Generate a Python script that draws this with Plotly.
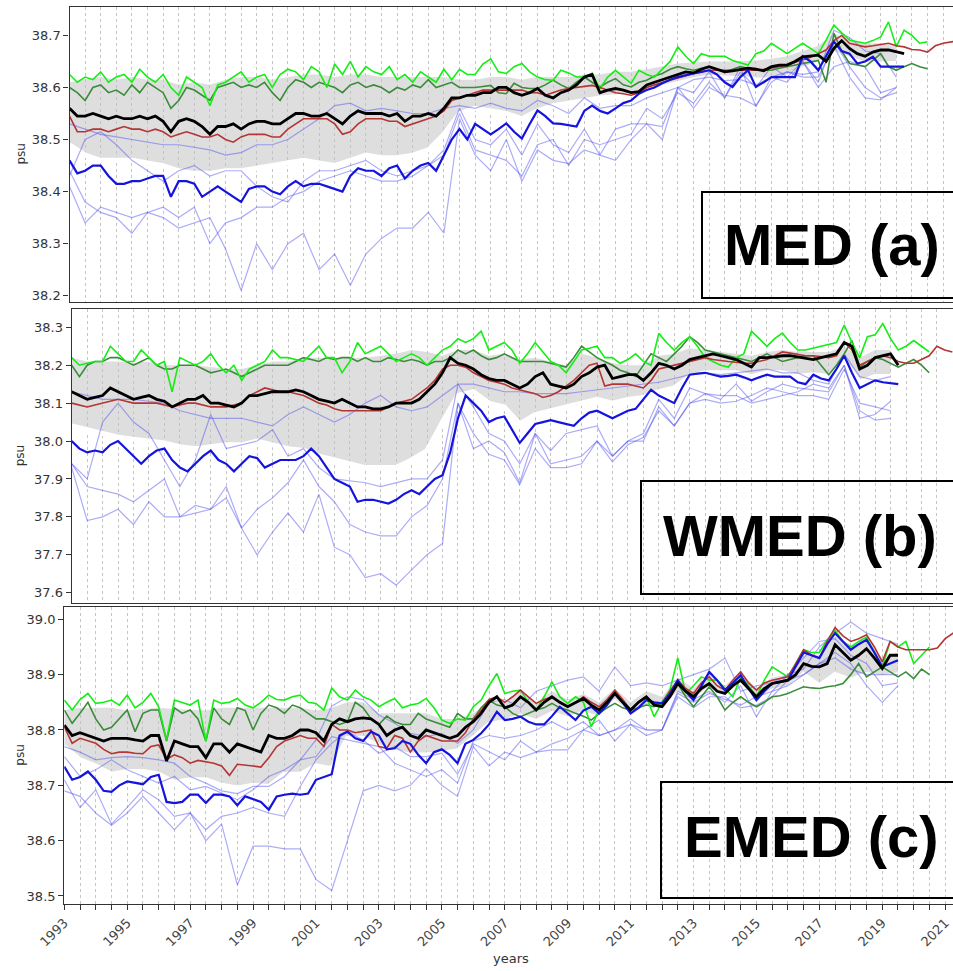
import plotly.graph_objects as go

# ---------------- time axis settings ----------------
START = 1993.0
Q = 0.25   # quarterly series
H = 0.5    # semi-annual series

year_ticks = list(range(1993, 2022, 2))
year_labels = [str(y) for y in year_ticks]

# ---------------- MED (a) ----------------
med_black = [38.56, 38.545, 38.545, 38.55, 38.545, 38.54, 38.545, 38.54, 38.54, 38.545, 38.54, 38.545,
             38.535, 38.515, 38.535, 38.54, 38.535, 38.525, 38.51, 38.525, 38.525, 38.53, 38.52, 38.53,
             38.535, 38.535, 38.53, 38.53, 38.54, 38.55, 38.55, 38.545, 38.545, 38.55, 38.54, 38.53,
             38.545, 38.555, 38.55, 38.55, 38.55, 38.545, 38.55, 38.535, 38.545, 38.545, 38.55, 38.545,
             38.56, 38.58, 38.58, 38.585, 38.585, 38.59, 38.59, 38.60, 38.60, 38.59, 38.585, 38.59,
             38.598, 38.585, 38.58, 38.59, 38.595, 38.605, 38.62, 38.625, 38.59, 38.595, 38.598, 38.595,
             38.59, 38.592, 38.605, 38.61, 38.615, 38.62, 38.625, 38.63, 38.628, 38.635, 38.64, 38.635,
             38.63, 38.632, 38.635, 38.637, 38.635, 38.632, 38.64, 38.643, 38.643, 38.65, 38.659, 38.66,
             38.662, 38.65, 38.675, 38.69, 38.675, 38.665, 38.66, 38.668, 38.672, 38.672, 38.668, 38.665]
med_red = [38.545, 38.515, 38.515, 38.52, 38.52, 38.515, 38.52, 38.525, 38.52, 38.52, 38.515, 38.52,
           38.515, 38.505, 38.51, 38.515, 38.51, 38.505, 38.505, 38.51, 38.50, 38.495, 38.505, 38.51,
           38.51, 38.51, 38.505, 38.505, 38.52, 38.53, 38.54, 38.54, 38.54, 38.54, 38.53, 38.51,
           38.515, 38.53, 38.54, 38.54, 38.54, 38.535, 38.535, 38.525, 38.53, 38.535, 38.54, 38.545,
           38.555, 38.575, 38.58, 38.585, 38.59, 38.595, 38.595, 38.595, 38.595, 38.595, 38.595, 38.59,
           38.59, 38.585, 38.59, 38.595, 38.598, 38.60, 38.602, 38.604, 38.60, 38.595, 38.59, 38.588,
           38.585, 38.59, 38.60, 38.605, 38.61, 38.614, 38.618, 38.623, 38.627, 38.63, 38.633, 38.633,
           38.633, 38.633, 38.633, 38.633, 38.633, 38.635, 38.637, 38.64, 38.643, 38.648, 38.652, 38.658,
           38.665, 38.672, 38.69, 38.70, 38.685, 38.682, 38.678, 38.68, 38.683, 38.685, 38.68, 38.678,
           38.673, 38.672, 38.668, 38.68, 38.685, 38.688, 38.69]
med_lime = [38.625, 38.61, 38.62, 38.615, 38.63, 38.61, 38.62, 38.625, 38.61, 38.635, 38.62, 38.61,
            38.625, 38.60, 38.585, 38.62, 38.61, 38.60, 38.565, 38.605, 38.61, 38.62, 38.63, 38.61,
            38.62, 38.625, 38.60, 38.625, 38.635, 38.63, 38.615, 38.64, 38.63, 38.60, 38.645, 38.625,
            38.65, 38.62, 38.64, 38.63, 38.625, 38.64, 38.615, 38.625, 38.61, 38.63, 38.62, 38.61,
            38.635, 38.615, 38.635, 38.625, 38.625, 38.645, 38.655, 38.63, 38.627, 38.64, 38.646, 38.63,
            38.62, 38.615, 38.614, 38.633, 38.628, 38.62, 38.62, 38.627, 38.598, 38.62, 38.633, 38.62,
            38.608, 38.633, 38.625, 38.62, 38.635, 38.65, 38.678, 38.66, 38.646, 38.665, 38.66, 38.66,
            38.66, 38.652, 38.648, 38.643, 38.665, 38.67, 38.685, 38.675, 38.665, 38.675, 38.685, 38.675,
            38.665, 38.691, 38.72, 38.705, 38.691, 38.688, 38.685, 38.69, 38.697, 38.726, 38.678, 38.71,
            38.70, 38.685, 38.688]
med_dkgreen = [38.60, 38.59, 38.575, 38.60, 38.605, 38.59, 38.595, 38.585, 38.605, 38.59, 38.61, 38.60,
               38.59, 38.56, 38.575, 38.60, 38.595, 38.585, 38.575, 38.60, 38.605, 38.61, 38.60, 38.605,
               38.60, 38.61, 38.59, 38.575, 38.60, 38.615, 38.61, 38.60, 38.61, 38.605, 38.60, 38.59,
               38.605, 38.61, 38.60, 38.605, 38.60, 38.59, 38.60, 38.595, 38.605, 38.60, 38.615, 38.60,
               38.605, 38.61, 38.60, 38.60, 38.60, 38.602, 38.604, 38.59, 38.588, 38.608, 38.60, 38.598,
               38.598, 38.605, 38.614, 38.605, 38.598, 38.61, 38.62, 38.61, 38.601, 38.61, 38.617, 38.605,
               38.601, 38.61, 38.614, 38.622, 38.627, 38.635, 38.64, 38.636, 38.633, 38.637, 38.64, 38.635,
               38.63, 38.635, 38.64, 38.637, 38.633, 38.633, 38.633, 38.637, 38.64, 38.643, 38.646, 38.65,
               38.652, 38.61, 38.704, 38.67, 38.646, 38.643, 38.64, 38.652, 38.665, 38.64, 38.633, 38.64,
               38.646, 38.64, 38.636]
med_blue = [38.46, 38.435, 38.44, 38.45, 38.45, 38.43, 38.415, 38.415, 38.42, 38.42, 38.425, 38.43,
            38.43, 38.39, 38.42, 38.42, 38.415, 38.39, 38.40, 38.41, 38.40, 38.39, 38.38, 38.405,
            38.41, 38.41, 38.40, 38.395, 38.41, 38.42, 38.41, 38.415, 38.415, 38.41, 38.405, 38.40,
            38.43, 38.445, 38.44, 38.44, 38.43, 38.445, 38.45, 38.425, 38.44, 38.45, 38.455, 38.44,
            38.47, 38.50, 38.52, 38.50, 38.53, 38.52, 38.51, 38.52, 38.531, 38.515, 38.502, 38.53,
            38.556, 38.545, 38.531, 38.53, 38.528, 38.525, 38.555, 38.565, 38.555, 38.55, 38.56, 38.57,
            38.575, 38.588, 38.595, 38.60, 38.608, 38.615, 38.62, 38.624, 38.627, 38.63, 38.633, 38.625,
            38.61, 38.601, 38.62, 38.633, 38.601, 38.61, 38.62, 38.62, 38.62, 38.62, 38.66, 38.65,
            38.633, 38.66, 38.688, 38.67, 38.665, 38.646, 38.65, 38.659, 38.64, 38.64, 38.64, 38.64]
med_band_hi = [38.61, 38.615, 38.62, 38.615, 38.62, 38.615, 38.615, 38.605, 38.61, 38.605, 38.615, 38.62,
               38.62, 38.615, 38.62, 38.625, 38.625, 38.62, 38.625, 38.625, 38.62, 38.62, 38.62, 38.62,
               38.62, 38.615, 38.615, 38.62, 38.62, 38.615, 38.62, 38.62, 38.62, 38.625, 38.625, 38.63,
               38.63, 38.635, 38.64, 38.646, 38.648, 38.65, 38.65, 38.65, 38.652, 38.655, 38.66, 38.67,
               38.68, 38.704, 38.69, 38.685, 38.685, 38.678]
med_band_lo = [38.49, 38.47, 38.46, 38.46, 38.46, 38.455, 38.45, 38.44, 38.435, 38.435, 38.44, 38.44,
               38.445, 38.45, 38.455, 38.46, 38.455, 38.45, 38.46, 38.47, 38.465, 38.465, 38.47, 38.48,
               38.51, 38.55, 38.56, 38.555, 38.55, 38.54, 38.555, 38.565, 38.57, 38.575, 38.58, 38.582,
               38.585, 38.59, 38.60, 38.608, 38.615, 38.62, 38.618, 38.615, 38.615, 38.614, 38.62, 38.635,
               38.645, 38.665, 38.655, 38.645, 38.645, 38.646]
med_light = [
    [38.53, 38.52, 38.51, 38.505, 38.50, 38.495, 38.49, 38.49, 38.485, 38.48, 38.47, 38.475,
     38.49, 38.49, 38.50, 38.52, 38.54, 38.565, 38.57, 38.555, 38.56, 38.555, 38.55, 38.55,
     38.56, 38.565, 38.56, 38.57, 38.56, 38.555, 38.575, 38.565, 38.55, 38.58, 38.56, 38.565,
     38.565, 38.58, 38.59, 38.60, 38.615, 38.62, 38.613, 38.615, 38.605, 38.62, 38.63, 38.625,
     38.63, 38.71, 38.696, 38.67, 38.665, 38.62],
    [38.43, 38.50, 38.515, 38.49, 38.46, 38.44, 38.42, 38.44, 38.45, 38.43, 38.44, 38.44,
     38.41, 38.39, 38.38, 38.42, 38.44, 38.44, 38.45, 38.46, 38.44, 38.43, 38.44, 38.45,
     38.48, 38.56, 38.50, 38.49, 38.52, 38.47, 38.53, 38.49, 38.475, 38.52, 38.47, 38.52,
     38.53, 38.53, 38.525, 38.60, 38.59, 38.63, 38.58, 38.64, 38.563, 38.62, 38.61, 38.65,
     38.60, 38.64, 38.65, 38.64, 38.59, 38.60],
    [38.44, 38.38, 38.36, 38.35, 38.32, 38.36, 38.37, 38.35, 38.37, 38.30, 38.34, 38.35,
     38.37, 38.37, 38.39, 38.40, 38.42, 38.43, 38.44, 38.43, 38.42, 38.42, 38.43, 38.45,
     38.47, 38.55, 38.48, 38.47, 38.46, 38.43, 38.49, 38.50, 38.45, 38.50, 38.49, 38.50,
     38.51, 38.56, 38.54, 38.59, 38.57, 38.61, 38.58, 38.63, 38.60, 38.64, 38.62, 38.65,
     38.61, 38.69, 38.64, 38.60, 38.58, 38.59],
    [38.41, 38.34, 38.37, 38.36, 38.35, 38.36, 38.35, 38.33, 38.34, 38.35, 38.29, 38.21,
     38.30, 38.25, 38.30, 38.32, 38.25, 38.28, 38.22, 38.28, 38.31, 38.33, 38.33, 38.36,
     38.32, 38.54, 38.47, 38.44, 38.50, 38.42, 38.48, 38.46, 38.454, 38.48, 38.47, 38.46,
     38.50, 38.53, 38.50, 38.60, 38.56, 38.60, 38.585, 38.58, 38.565, 38.61, 38.63, 38.62,
     38.62, 38.68, 38.62, 38.58, 38.576, 38.60],
]

# ---------------- WMED (b) ----------------
wmed_black = [38.13, 38.12, 38.11, 38.115, 38.12, 38.14, 38.13, 38.12, 38.11, 38.115, 38.12, 38.11,
              38.105, 38.09, 38.10, 38.11, 38.11, 38.12, 38.10, 38.10, 38.095, 38.09, 38.10, 38.12,
              38.12, 38.125, 38.13, 38.13, 38.13, 38.135, 38.13, 38.12, 38.11, 38.105, 38.10, 38.11,
              38.10, 38.09, 38.09, 38.085, 38.085, 38.09, 38.10, 38.10, 38.10, 38.11, 38.13, 38.15,
              38.18, 38.22, 38.205, 38.20, 38.19, 38.175, 38.165, 38.16, 38.16, 38.15, 38.14, 38.15,
              38.17, 38.18, 38.15, 38.145, 38.14, 38.15, 38.17, 38.18, 38.195, 38.20, 38.165, 38.17,
              38.175, 38.175, 38.16, 38.18, 38.205, 38.20, 38.19, 38.20, 38.215, 38.22, 38.225, 38.23,
              38.225, 38.22, 38.215, 38.205, 38.195, 38.22, 38.22, 38.222, 38.225, 38.225, 38.222, 38.218,
              38.215, 38.22, 38.225, 38.23, 38.26, 38.25, 38.19, 38.20, 38.22, 38.225, 38.23, 38.20]
wmed_red = [38.10, 38.095, 38.09, 38.095, 38.10, 38.105, 38.11, 38.105, 38.10, 38.10, 38.10, 38.10,
            38.095, 38.09, 38.095, 38.10, 38.10, 38.095, 38.09, 38.09, 38.09, 38.095, 38.10, 38.12,
            38.13, 38.14, 38.135, 38.13, 38.13, 38.125, 38.12, 38.11, 38.10, 38.095, 38.085, 38.08,
            38.08, 38.08, 38.08, 38.08, 38.08, 38.09, 38.10, 38.105, 38.11, 38.125, 38.14, 38.16,
            38.19, 38.20, 38.20, 38.195, 38.18, 38.17, 38.16, 38.155, 38.15, 38.14, 38.135, 38.13,
            38.125, 38.115, 38.12, 38.13, 38.145, 38.16, 38.18, 38.20, 38.205, 38.145, 38.15, 38.15,
            38.15, 38.145, 38.14, 38.16, 38.19, 38.195, 38.20, 38.205, 38.21, 38.215, 38.22, 38.215,
            38.212, 38.21, 38.208, 38.205, 38.205, 38.21, 38.215, 38.225, 38.235, 38.232, 38.228, 38.225,
            38.225, 38.222, 38.22, 38.225, 38.26, 38.24, 38.20, 38.21, 38.22, 38.225, 38.22, 38.21,
            38.205, 38.205, 38.215, 38.225, 38.25, 38.24, 38.235]
wmed_lime = [38.22, 38.20, 38.205, 38.21, 38.21, 38.25, 38.23, 38.21, 38.21, 38.24, 38.22, 38.20,
             38.21, 38.13, 38.22, 38.21, 38.20, 38.21, 38.23, 38.20, 38.18, 38.20, 38.16, 38.19,
             38.20, 38.21, 38.24, 38.22, 38.22, 38.215, 38.21, 38.23, 38.25, 38.22, 38.22, 38.18,
             38.21, 38.26, 38.23, 38.24, 38.25, 38.23, 38.21, 38.22, 38.23, 38.22, 38.20, 38.22,
             38.24, 38.25, 38.27, 38.26, 38.27, 38.29, 38.24, 38.25, 38.26, 38.24, 38.205, 38.23,
             38.26, 38.235, 38.21, 38.20, 38.18, 38.21, 38.24, 38.245, 38.25, 38.22, 38.22, 38.205,
             38.215, 38.23, 38.21, 38.20, 38.284, 38.26, 38.24, 38.26, 38.275, 38.25, 38.22, 38.21,
             38.20, 38.195, 38.22, 38.23, 38.29, 38.27, 38.25, 38.27, 38.285, 38.26, 38.24, 38.24,
             38.245, 38.25, 38.255, 38.26, 38.306, 38.26, 38.22, 38.275, 38.28, 38.31, 38.27, 38.24,
             38.25, 38.265, 38.25, 38.235]
wmed_dkgreen = [38.20, 38.17, 38.20, 38.21, 38.21, 38.22, 38.22, 38.21, 38.20, 38.21, 38.22, 38.20,
                38.19, 38.19, 38.20, 38.20, 38.20, 38.19, 38.18, 38.185, 38.19, 38.18, 38.17, 38.18,
                38.19, 38.20, 38.20, 38.20, 38.20, 38.21, 38.22, 38.215, 38.21, 38.22, 38.215, 38.22,
                38.22, 38.21, 38.22, 38.21, 38.21, 38.22, 38.215, 38.21, 38.215, 38.21, 38.20, 38.21,
                38.21, 38.22, 38.24, 38.23, 38.24, 38.225, 38.215, 38.22, 38.23, 38.22, 38.21, 38.21,
                38.21, 38.21, 38.205, 38.20, 38.195, 38.22, 38.25, 38.235, 38.22, 38.21, 38.20, 38.187,
                38.18, 38.17, 38.20, 38.23, 38.22, 38.21, 38.23, 38.25, 38.275, 38.26, 38.24, 38.235,
                38.23, 38.225, 38.22, 38.215, 38.21, 38.22, 38.23, 38.22, 38.21, 38.215, 38.22, 38.225,
                38.225, 38.20, 38.175, 38.20, 38.23, 38.265, 38.195, 38.21, 38.22, 38.215, 38.205, 38.195,
                38.205, 38.215, 38.20, 38.18]
wmed_blue = [38.00, 37.98, 37.97, 37.975, 37.97, 37.99, 38.00, 37.98, 37.96, 37.94, 37.96, 37.975,
             37.98, 37.95, 37.93, 37.92, 37.94, 37.96, 37.975, 37.95, 37.94, 37.92, 37.94, 37.96,
             37.955, 37.93, 37.94, 37.95, 37.95, 37.95, 37.96, 37.98, 37.96, 37.93, 37.90, 37.89,
             37.88, 37.84, 37.845, 37.845, 37.84, 37.835, 37.845, 37.86, 37.87, 37.86, 37.88, 37.90,
             37.91, 37.97, 38.06, 38.12, 38.10, 38.08, 38.05, 38.06, 38.065, 38.03, 37.995, 38.02,
             38.045, 38.05, 38.055, 38.05, 38.045, 38.04, 38.06, 38.075, 38.08, 38.07, 38.06, 38.07,
             38.08, 38.085, 38.11, 38.135, 38.12, 38.11, 38.10, 38.14, 38.175, 38.178, 38.18, 38.175,
             38.17, 38.172, 38.175, 38.168, 38.16, 38.168, 38.175, 38.17, 38.17, 38.17, 38.155, 38.15,
             38.175, 38.165, 38.16, 38.19, 38.225, 38.18, 38.14, 38.15, 38.16, 38.155, 38.152, 38.15]
wmed_band_hi = [38.22, 38.21, 38.21, 38.21, 38.205, 38.21, 38.20, 38.20, 38.20, 38.195, 38.19, 38.19,
                38.20, 38.21, 38.21, 38.22, 38.22, 38.215, 38.22, 38.22, 38.225, 38.23, 38.24, 38.235,
                38.225, 38.24, 38.24, 38.225, 38.23, 38.215, 38.22, 38.21, 38.20, 38.23, 38.22, 38.205,
                38.20, 38.20, 38.225, 38.23, 38.245, 38.24, 38.235, 38.23, 38.225, 38.235, 38.24, 38.235,
                38.235, 38.235, 38.25, 38.22, 38.24, 38.24]
wmed_band_lo = [38.04, 38.03, 38.02, 38.01, 38.005, 38.00, 37.995, 37.985, 37.98, 37.985, 37.99, 37.99,
                38.00, 37.99, 37.98, 37.975, 37.96, 37.95, 37.94, 37.93, 37.93, 37.93, 37.95, 37.975,
                38.05, 38.12, 38.13, 38.10, 38.09, 38.045, 38.07, 38.08, 38.09, 38.10, 38.11, 38.10,
                38.11, 38.115, 38.13, 38.14, 38.17, 38.18, 38.18, 38.18, 38.17, 38.18, 38.18, 38.17,
                38.175, 38.17, 38.21, 38.155, 38.17, 38.17]
wmed_light = [
    [38.13, 38.12, 38.11, 38.11, 38.11, 38.105, 38.10, 38.08, 38.07, 38.06, 38.06, 38.06,
     38.05, 38.04, 38.07, 38.09, 38.07, 38.05, 38.07, 38.10, 38.12, 38.09, 38.08, 38.09,
     38.12, 38.15, 38.15, 38.14, 38.13, 38.13, 38.125, 38.125, 38.125, 38.13, 38.135, 38.14,
     38.145, 38.15, 38.155, 38.165, 38.175, 38.18, 38.175, 38.18, 38.185, 38.19, 38.18, 38.18,
     38.16, 38.15, 38.23, 38.17, 38.16, 38.17],
    [37.94, 37.90, 38.05, 38.10, 38.05, 38.02, 37.95, 37.88, 37.95, 38.07, 37.98, 37.99,
     38.00, 38.03, 37.96, 37.98, 37.93, 37.90, 37.895, 37.89, 37.88, 37.89, 37.90, 37.90,
     37.95, 38.15, 38.09, 38.02, 38.00, 37.94, 38.02, 37.975, 38.02, 38.03, 38.04, 37.96,
     38.00, 38.00, 38.09, 38.04, 38.10, 38.125, 38.11, 38.15, 38.105, 38.13, 38.15, 38.14,
     38.135, 38.13, 38.20, 38.06, 38.07, 38.105],
    [37.94, 37.88, 37.87, 37.86, 37.84, 37.87, 37.90, 37.80, 37.83, 37.82, 37.88, 37.77,
     37.82, 37.85, 37.89, 37.95, 37.88, 37.84, 37.78, 37.76, 37.75, 37.75, 37.80, 37.83,
     37.90, 38.10, 37.98, 38.00, 37.97, 37.89, 38.02, 37.94, 37.95, 37.96, 38.00, 37.96,
     38.00, 38.02, 38.11, 38.06, 38.14, 38.125, 38.12, 38.12, 38.10, 38.11, 38.12, 38.13,
     38.15, 38.14, 38.20, 38.08, 38.055, 38.06],
    [37.93, 37.79, 37.80, 37.82, 37.78, 37.84, 37.80, 37.80, 37.81, 37.82, 37.85, 37.77,
     37.70, 37.76, 37.81, 37.76, 37.86, 37.72, 37.70, 37.64, 37.65, 37.62, 37.66, 37.70,
     37.73, 38.10, 38.02, 37.965, 37.95, 37.885, 37.98, 37.93, 37.93, 37.94, 38.00, 37.945,
     37.99, 38.01, 38.08, 38.04, 38.10, 38.11, 38.10, 38.105, 38.12, 38.14, 38.13, 38.12,
     38.12, 38.11, 38.19, 38.10, 38.09, 38.08],
]

# ---------------- EMED (c) ----------------
emed_black = [38.809, 38.79, 38.795, 38.79, 38.785, 38.78, 38.785, 38.785, 38.785, 38.782, 38.78, 38.79,
              38.79, 38.744, 38.78, 38.775, 38.77, 38.77, 38.75, 38.775, 38.775, 38.76, 38.775, 38.77,
              38.765, 38.76, 38.79, 38.785, 38.785, 38.79, 38.80, 38.80, 38.795, 38.78, 38.81, 38.82,
              38.815, 38.82, 38.822, 38.82, 38.81, 38.79, 38.80, 38.805, 38.79, 38.785, 38.80, 38.795,
              38.79, 38.785, 38.79, 38.805, 38.815, 38.83, 38.85, 38.86, 38.84, 38.845, 38.86, 38.85,
              38.836, 38.85, 38.86, 38.85, 38.842, 38.85, 38.857, 38.845, 38.836, 38.85, 38.866, 38.85,
              38.836, 38.85, 38.86, 38.845, 38.842, 38.86, 38.884, 38.87, 38.86, 38.875, 38.884, 38.87,
              38.866, 38.88, 38.89, 38.875, 38.86, 38.875, 38.884, 38.887, 38.89, 38.90, 38.92, 38.915,
              38.914, 38.92, 38.954, 38.94, 38.926, 38.935, 38.947, 38.93, 38.911, 38.935, 38.935]
emed_red = [38.806, 38.776, 38.785, 38.78, 38.776, 38.765, 38.757, 38.76, 38.76, 38.758, 38.757, 38.77,
            38.773, 38.747, 38.755, 38.75, 38.74, 38.745, 38.743, 38.74, 38.735, 38.718, 38.738, 38.737,
            38.735, 38.733, 38.75, 38.77, 38.78, 38.785, 38.79, 38.785, 38.785, 38.77, 38.81, 38.80,
            38.80, 38.795, 38.797, 38.80, 38.77, 38.767, 38.79, 38.785, 38.76, 38.78, 38.79, 38.785,
            38.78, 38.78, 38.78, 38.795, 38.82, 38.835, 38.855, 38.86, 38.85, 38.86, 38.872, 38.86,
            38.848, 38.855, 38.86, 38.85, 38.842, 38.85, 38.86, 38.85, 38.842, 38.855, 38.872, 38.855,
            38.836, 38.85, 38.86, 38.848, 38.848, 38.87, 38.89, 38.875, 38.866, 38.885, 38.896, 38.88,
            38.872, 38.89, 38.905, 38.885, 38.872, 38.885, 38.89, 38.893, 38.896, 38.92, 38.945, 38.935,
            38.93, 38.96, 38.985, 38.97, 38.96, 38.965, 38.972, 38.95, 38.923, 38.96, 38.95, 38.945,
            38.945, 38.945, 38.945, 38.948, 38.965, 38.975, 38.985]
emed_lime = [38.854, 38.836, 38.855, 38.866, 38.848, 38.85, 38.854, 38.845, 38.863, 38.84, 38.85, 38.866,
             38.842, 38.782, 38.854, 38.85, 38.845, 38.854, 38.78, 38.854, 38.848, 38.85, 38.857, 38.845,
             38.84, 38.85, 38.863, 38.855, 38.854, 38.86, 38.863, 38.85, 38.848, 38.836, 38.876, 38.86,
             38.854, 38.872, 38.86, 38.854, 38.842, 38.85, 38.857, 38.84, 38.845, 38.848, 38.857, 38.84,
             38.818, 38.812, 38.82, 38.818, 38.842, 38.854, 38.88, 38.902, 38.866, 38.87, 38.872, 38.85,
             38.836, 38.86, 38.887, 38.86, 38.848, 38.86, 38.85, 38.806, 38.836, 38.85, 38.872, 38.85,
             38.836, 38.85, 38.86, 38.824, 38.85, 38.872, 38.93, 38.866, 38.88, 38.896, 38.89, 38.89,
             38.875, 38.86, 38.896, 38.88, 38.86, 38.89, 38.914, 38.905, 38.896, 38.92, 38.945, 38.94,
             38.94, 38.963, 38.98, 38.96, 38.95, 38.96, 38.968, 38.94, 38.914, 38.96, 38.95, 38.96,
             38.92, 38.935, 38.95]
emed_dkgreen = [38.836, 38.812, 38.83, 38.85, 38.82, 38.80, 38.805, 38.82, 38.836, 38.797, 38.83, 38.836,
                38.836, 38.78, 38.84, 38.83, 38.836, 38.82, 38.78, 38.84, 38.82, 38.81, 38.84, 38.835,
                38.80, 38.83, 38.845, 38.84, 38.83, 38.845, 38.84, 38.83, 38.82, 38.82, 38.815, 38.81,
                38.815, 38.85, 38.84, 38.82, 38.81, 38.825, 38.815, 38.81, 38.81, 38.83, 38.82, 38.815,
                38.81, 38.805, 38.83, 38.82, 38.82, 38.84, 38.854, 38.845, 38.842, 38.83, 38.824, 38.83,
                38.836, 38.84, 38.848, 38.84, 38.836, 38.83, 38.825, 38.818, 38.83, 38.84, 38.848, 38.84,
                38.836, 38.84, 38.845, 38.842, 38.85, 38.87, 38.884, 38.86, 38.842, 38.86, 38.878, 38.86,
                38.836, 38.85, 38.86, 38.85, 38.842, 38.85, 38.86, 38.862, 38.866, 38.872, 38.878, 38.876,
                38.875, 38.878, 38.88, 38.884, 38.90, 38.92, 38.896, 38.905, 38.914, 38.905, 38.896, 38.905,
                38.893, 38.91, 38.90]
emed_blue = [38.734, 38.71, 38.715, 38.725, 38.71, 38.69, 38.688, 38.70, 38.707, 38.705, 38.702, 38.715,
             38.719, 38.67, 38.668, 38.67, 38.683, 38.683, 38.668, 38.683, 38.683, 38.68, 38.664, 38.68,
             38.675, 38.67, 38.656, 38.68, 38.683, 38.685, 38.683, 38.685, 38.71, 38.715, 38.72, 38.79,
             38.797, 38.785, 38.78, 38.797, 38.79, 38.765, 38.767, 38.78, 38.775, 38.755, 38.74, 38.76,
             38.765, 38.755, 38.74, 38.775, 38.782, 38.794, 38.81, 38.833, 38.818, 38.82, 38.824, 38.815,
             38.81, 38.81, 38.825, 38.842, 38.83, 38.818, 38.835, 38.842, 38.83, 38.845, 38.866, 38.85,
             38.83, 38.84, 38.854, 38.85, 38.848, 38.865, 38.89, 38.87, 38.854, 38.88, 38.905, 38.89,
             38.872, 38.885, 38.899, 38.875, 38.854, 38.87, 38.884, 38.887, 38.89, 38.915, 38.94, 38.935,
             38.93, 38.955, 38.975, 38.96, 38.945, 38.955, 38.963, 38.94, 38.914, 38.92, 38.926]
emed_band_hi = [38.836, 38.84, 38.84, 38.84, 38.835, 38.838, 38.84, 38.838, 38.836, 38.835, 38.84, 38.84,
                38.84, 38.84, 38.84, 38.84, 38.835, 38.84, 38.85, 38.85, 38.83, 38.83, 38.83, 38.83,
                38.82, 38.82, 38.83, 38.85, 38.85, 38.87, 38.85, 38.87, 38.855, 38.865, 38.85, 38.875,
                38.85, 38.87, 38.86, 38.895, 38.875, 38.90, 38.88, 38.905, 38.875, 38.895, 38.90, 38.94,
                38.935, 38.97, 38.95, 38.965, 38.93, 38.94]
emed_band_lo = [38.77, 38.746, 38.735, 38.72, 38.725, 38.725, 38.72, 38.705, 38.71, 38.71, 38.70, 38.695,
                38.70, 38.698, 38.72, 38.72, 38.735, 38.73, 38.785, 38.785, 38.77, 38.76, 38.755, 38.755,
                38.758, 38.762, 38.785, 38.81, 38.815, 38.825, 38.815, 38.83, 38.82, 38.83, 38.82, 38.85,
                38.825, 38.84, 38.835, 38.865, 38.85, 38.875, 38.86, 38.88, 38.85, 38.87, 38.875, 38.90,
                38.88, 38.90, 38.89, 38.90, 38.895, 38.90]
emed_light = [
    [38.77, 38.76, 38.746, 38.75, 38.752, 38.75, 38.746, 38.74, 38.716, 38.704, 38.69, 38.685,
     38.698, 38.698, 38.716, 38.746, 38.782, 38.843, 38.86, 38.855, 38.827, 38.812, 38.794, 38.788,
     38.794, 38.776, 38.80, 38.85, 38.855, 38.84, 38.87, 38.88, 38.89, 38.896, 38.87, 38.914,
     38.88, 38.885, 38.88, 38.89, 38.90, 38.91, 38.93, 38.87, 38.88, 38.885, 38.90, 38.91,
     38.95, 38.975, 38.995, 38.975, 38.965, 38.955],
    [38.752, 38.716, 38.728, 38.746, 38.728, 38.716, 38.704, 38.716, 38.692, 38.698, 38.686, 38.674,
     38.692, 38.716, 38.728, 38.746, 38.752, 38.788, 38.782, 38.776, 38.77, 38.74, 38.728, 38.716,
     38.728, 38.704, 38.78, 38.79, 38.785, 38.79, 38.80, 38.815, 38.80, 38.815, 38.79, 38.80,
     38.82, 38.80, 38.80, 38.87, 38.855, 38.87, 38.85, 38.88, 38.824, 38.87, 38.90, 38.93,
     38.96, 38.965, 38.935, 38.92, 38.88, 38.885],
    [38.71, 38.66, 38.692, 38.63, 38.66, 38.692, 38.674, 38.644, 38.65, 38.62, 38.644, 38.65,
     38.66, 38.65, 38.644, 38.698, 38.746, 38.776, 38.797, 38.782, 38.758, 38.77, 38.752, 38.752,
     38.758, 38.72, 38.775, 38.76, 38.746, 38.78, 38.76, 38.775, 38.785, 38.80, 38.818, 38.78,
     38.81, 38.79, 38.80, 38.866, 38.85, 38.866, 38.855, 38.845, 38.86, 38.87, 38.88, 38.90,
     38.92, 38.94, 38.92, 38.88, 38.85, 38.88],
    [38.69, 38.68, 38.65, 38.628, 38.65, 38.68, 38.65, 38.62, 38.65, 38.60, 38.63, 38.52,
     38.59, 38.59, 38.585, 38.585, 38.53, 38.51, 38.60, 38.69, 38.70, 38.69, 38.70, 38.73,
     38.70, 38.68, 38.77, 38.735, 38.76, 38.75, 38.76, 38.764, 38.764, 38.80, 38.79, 38.80,
     38.81, 38.80, 38.80, 38.86, 38.84, 38.86, 38.86, 38.84, 38.845, 38.86, 38.89, 38.90,
     38.92, 38.93, 38.91, 38.90, 38.90, 38.90],
]

# ---------------- styles ----------------
C_LIME = "#14ee14"
C_DKGREEN = "#3a8c3a"
C_BLACK = "#000000"
C_RED = "#b53434"
C_BLUE = "#1414dc"
C_LIGHT = "rgba(70,70,240,0.45)"
C_BAND = "rgba(195,195,195,0.55)"
GRID = "#c4c4c4"
FRAME = "#333333"

W, HGT = 953, 971

panels = [
    dict(name="MED (a)", black=med_black, red=med_red, lime=med_lime, dk=med_dkgreen, blue=med_blue,
         hi=med_band_hi, lo=med_band_lo, light=med_light,
         xl=69.5, top=7.3, bot=301.7, x0=1993.0, pxyr=31.2, yr=(38.1885, 38.754),
         yt=[38.2, 38.3, 38.4, 38.5, 38.6, 38.7],
         box=(702, 192, 990, 298), txt=(832, 245)),
    dict(name="WMED (b)", black=wmed_black, red=wmed_red, lime=wmed_lime, dk=wmed_dkgreen, blue=wmed_blue,
         hi=wmed_band_hi, lo=wmed_band_lo, light=wmed_light,
         xl=71.7, top=309.3, bot=603.3, x0=1993.0, pxyr=30.9, yr=(37.572, 38.3475),
         yt=[37.6, 37.7, 37.8, 37.9, 38.0, 38.1, 38.2, 38.3],
         box=(641, 481, 990, 594), txt=(800, 535)),
    dict(name="EMED (c)", black=emed_black, red=emed_red, lime=emed_lime, dk=emed_dkgreen, blue=emed_blue,
         hi=emed_band_hi, lo=emed_band_lo, light=emed_light,
         xl=64.3, top=607.3, bot=904.0, x0=1993.0, pxyr=31.46, yr=(38.4855, 39.0217),
         yt=[38.5, 38.6, 38.7, 38.8, 38.9, 39.0],
         box=(661, 782, 990, 898), txt=(811, 836)),
]


def tgrid(vals, step):
    return [START + step * i for i in range(len(vals))]


fig = go.Figure()
layout = dict(width=W, height=HGT, autosize=False, margin=dict(l=0, r=0, t=0, b=0, pad=0, autoexpand=False),
              paper_bgcolor="white", plot_bgcolor="white", showlegend=False,
              font=dict(family="DejaVu Sans", color="#333333", size=13))
shapes = []
annotations = []

for k, p in enumerate(panels, start=1):
    xa = "x" if k == 1 else f"x{k}"
    ya = "y" if k == 1 else f"y{k}"
    # band
    fig.add_trace(go.Scatter(x=tgrid(p["lo"], H), y=p["lo"], mode="lines",
                             line=dict(color="white", width=5), xaxis=xa, yaxis=ya, hoverinfo="skip"))
    fig.add_trace(go.Scatter(x=tgrid(p["hi"], H), y=p["hi"], mode="lines", fill="tonexty",
                             fillcolor=C_BAND, line=dict(color="rgba(0,0,0,0)", width=0),
                             xaxis=xa, yaxis=ya, hoverinfo="skip"))
    # thin ensemble members
    for s in p["light"]:
        fig.add_trace(go.Scatter(x=tgrid(s, H), y=s, mode="lines",
                                 line=dict(color=C_LIGHT, width=1.2), xaxis=xa, yaxis=ya))
    fig.add_trace(go.Scatter(x=tgrid(p["dk"], Q), y=p["dk"], mode="lines",
                             line=dict(color=C_DKGREEN, width=1.6), xaxis=xa, yaxis=ya))
    fig.add_trace(go.Scatter(x=tgrid(p["lime"], Q), y=p["lime"], mode="lines",
                             line=dict(color=C_LIME, width=1.6), xaxis=xa, yaxis=ya))
    fig.add_trace(go.Scatter(x=tgrid(p["red"], Q), y=p["red"], mode="lines",
                             line=dict(color=C_RED, width=1.6), xaxis=xa, yaxis=ya))
    fig.add_trace(go.Scatter(x=tgrid(p["blue"], Q), y=p["blue"], mode="lines",
                             line=dict(color=C_BLUE, width=2.2), xaxis=xa, yaxis=ya))
    fig.add_trace(go.Scatter(x=tgrid(p["black"], Q), y=p["black"], mode="lines",
                             line=dict(color=C_BLACK, width=2.8), xaxis=xa, yaxis=ya))

    x_right = p["x0"] + (W - p["xl"]) / p["pxyr"]
    bottom = (k == 3)
    xkey = "xaxis" if k == 1 else f"xaxis{k}"
    ykey = "yaxis" if k == 1 else f"yaxis{k}"
    layout[xkey] = dict(
        domain=[p["xl"] / W, 1.0], range=[p["x0"], x_right], anchor=ya, automargin=False,
        tickmode="array", tickvals=year_ticks, ticktext=year_labels,
        showticklabels=bottom, tickangle=-45, tickfont=dict(size=13, color="#444444"),
        ticks="outside" if bottom else "", ticklen=5, tickcolor=FRAME,
        showgrid=True, gridcolor=GRID, griddash="dot", gridwidth=1,
        minor=dict(tick0=1993, dtick=0.5, showgrid=True, gridcolor=GRID, griddash="dot", gridwidth=1,
                   ticks="outside" if bottom else "", ticklen=5, tickcolor=FRAME),
        showline=True, linecolor=FRAME, linewidth=1.3, mirror=True, zeroline=False,
    )
    layout[ykey] = dict(
        domain=[1 - p["bot"] / HGT, 1 - p["top"] / HGT], range=list(p["yr"]), anchor=xa, automargin=False,
        tickmode="array", tickvals=p["yt"], ticktext=[f"{v:.1f}" for v in p["yt"]],
        ticks="outside", ticklen=5, tickcolor=FRAME, tickfont=dict(size=13, color="#333333"),
        showgrid=False, zeroline=False, showline=True, linecolor=FRAME, linewidth=1.3,
    )
    # label box
    bx0, by0, bx1, by1 = p["box"]
    shapes.append(dict(type="rect", xref="paper", yref="paper",
                       x0=bx0 / W, x1=bx1 / W, y0=1 - by1 / HGT, y1=1 - by0 / HGT,
                       line=dict(color="black", width=2), fillcolor="rgba(0,0,0,0)", layer="above"))
    annotations.append(dict(text=p["name"], xref="paper", yref="paper",
                            x=p["txt"][0] / W, y=1 - p["txt"][1] / HGT, xanchor="center", yanchor="middle",
                            showarrow=False,
                            font=dict(family="Liberation Sans, Arial", size=58, color="black", weight="bold")))
    # y label
    annotations.append(dict(text="psu", xref="paper", yref="paper", x=20 / W,
                            y=1 - ((p["top"] + p["bot"]) / 2) / HGT, textangle=-90,
                            xanchor="center", yanchor="middle", showarrow=False,
                            font=dict(size=12, color="#333333")))

annotations.append(dict(text="years", xref="paper", yref="paper", x=511 / W, y=1 - 958 / HGT,
                        xanchor="center", yanchor="middle", showarrow=False,
                        font=dict(size=13, color="#333333")))

layout["shapes"] = shapes
layout["annotations"] = annotations
fig.update_layout(**layout)
fig.write_html("out.html", config={"displayModeBar": False},
               post_script="document.body.style.margin='0px';document.body.style.overflow='hidden';")
